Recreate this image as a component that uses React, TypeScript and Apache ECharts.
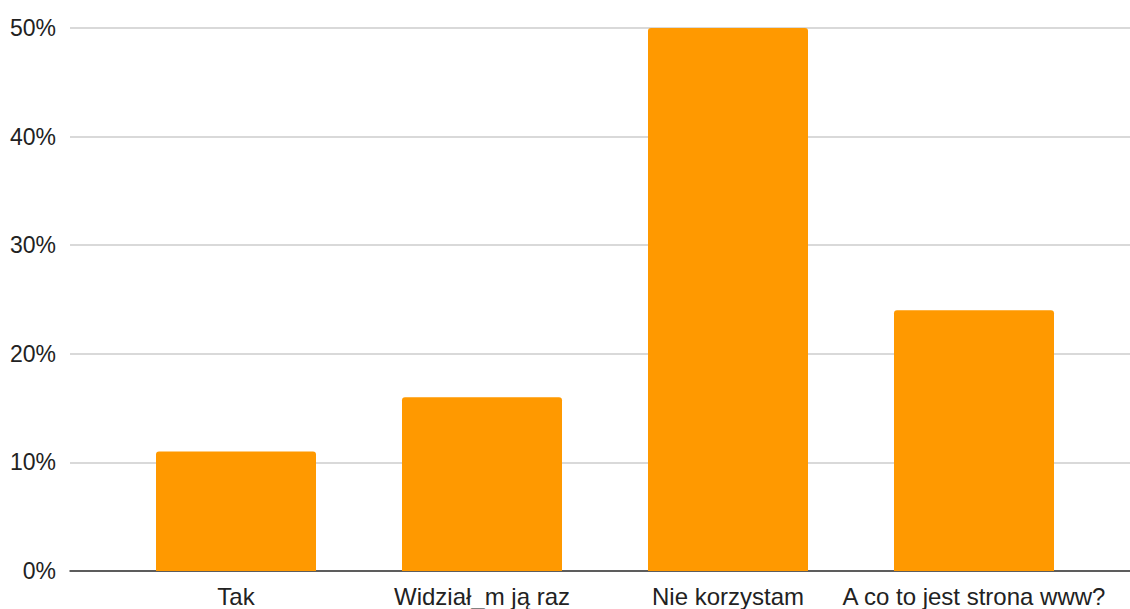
import React, { useEffect, useRef } from "react";
import * as echarts from "echarts";

const categories = ["Tak", "Widział_m ją raz", "Nie korzystam", "A co to jest strona www?"];
const values = [11, 16, 50, 24];
const yTicks = [0, 10, 20, 30, 40, 50];

export default function App() {
  const ref = useRef<HTMLDivElement>(null);
  useEffect(() => {
    if (!ref.current) return;
    const chart = echarts.init(ref.current, undefined, { renderer: "svg" });
    const font = "Liberation Sans, Arial, sans-serif";
    chart.setOption({
      animation: false,
      grid: [
        { left: 70, right: 0, top: 28, bottom: 38 },
        { left: 113, right: 33, top: 28, bottom: 38 },
      ],
      xAxis: [
        {
          type: "category",
          gridIndex: 0,
          data: [""],
          axisLine: { show: true, lineStyle: { color: "#333", width: 1.5 } },
          axisTick: { show: false },
          axisLabel: { show: false },
        },
        {
          type: "category",
          gridIndex: 1,
          data: categories,
          axisLine: { show: false },
          axisTick: { show: false },
          axisLabel: { color: "#222", fontSize: 24, fontFamily: font, margin: 13, interval: 0 },
        },
      ],
      yAxis: [
        {
          type: "value",
          gridIndex: 0,
          min: yTicks[0],
          max: yTicks[yTicks.length - 1],
          interval: 10,
          axisLine: { show: false },
          axisTick: { show: false },
          splitLine: { lineStyle: { color: "#ccc", width: 1.5 } },
          axisLabel: { color: "#222", fontSize: 23, fontFamily: font, margin: 14, formatter: "{value}%" },
        },
        {
          type: "value",
          gridIndex: 1,
          min: yTicks[0],
          max: yTicks[yTicks.length - 1],
          interval: 10,
          show: false,
          splitLine: { show: false },
        },
      ],
      series: [
        {
          type: "bar",
          xAxisIndex: 1,
          yAxisIndex: 1,
          data: values,
          barWidth: 160,
          itemStyle: { color: "#ff9900", borderRadius: [3, 3, 0, 0] },
          z: 1,
        },
      ],
    });
    return () => chart.dispose();
  }, []);
  return <div ref={ref} style={{ width: 1130, height: 609, position: "absolute", left: 0, top: 0 }} />;
}
